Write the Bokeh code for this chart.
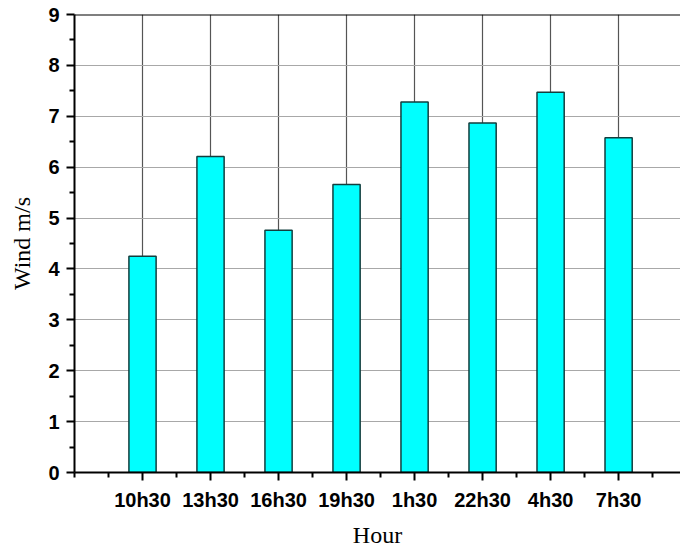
from bokeh.plotting import figure
from bokeh.models import Range1d, FixedTicker, Span
from bokeh.embed import file_html
from bokeh.resources import INLINE

# Data
hours = ["10h30", "13h30", "16h30", "19h30", "1h30", "22h30", "4h30", "7h30"]
wind = [4.25, 6.21, 4.76, 5.66, 7.28, 6.87, 7.47, 6.58]
y_ticks = [0, 1, 2, 3, 4, 5, 6, 7, 8, 9]
y_minor = [0.5, 1.5, 2.5, 3.5, 4.5, 5.5, 6.5, 7.5, 8.5]
x_pos = [1, 2, 3, 4, 5, 6, 7, 8]
x_minor = [0, 0.5, 1.5, 2.5, 3.5, 4.5, 5.5, 6.5, 7.5, 8.5]

LABEL_FONT = "Liberation Sans"
TITLE_FONT = "Liberation Serif"

p = figure(width=680, height=550, output_backend="svg", toolbar_location=None,
           x_range=Range1d(0, 8.91), y_range=Range1d(0, 9),
           min_border_left=74, min_border_top=14, min_border_right=0,
           min_border_bottom=78)
p.outline_line_color = None
p.background_fill_color = "white"
p.border_fill_color = "white"

p.vbar(x=x_pos, top=wind, width=0.4, bottom=0,
       fill_color="#00FFFF", line_color="#123e3e", line_width=1.5)

# grids
p.xgrid.ticker = FixedTicker(ticks=x_pos)
p.xgrid.grid_line_color = "#555555"
p.xgrid.grid_line_width = 1.2
p.ygrid.ticker = FixedTicker(ticks=y_ticks)
p.ygrid.grid_line_color = "#a8a8a8"
p.ygrid.grid_line_width = 1.2

# top frame line
p.add_layout(Span(location=9, dimension="width", line_color="black", line_width=2))

# x axis
xa = p.xaxis[0]
xa.ticker = FixedTicker(ticks=x_pos, minor_ticks=x_minor)
xa.major_label_overrides = {i: h for i, h in zip(x_pos, hours)}
xa.axis_label = "Hour"
xa.axis_label_text_font = TITLE_FONT
xa.axis_label_text_font_style = "normal"
xa.axis_label_text_font_size = "24px"
xa.axis_label_text_color = "black"
xa.axis_label_standoff = 8
xa.major_label_text_font = LABEL_FONT
xa.major_label_text_font_style = "bold"
xa.major_label_text_font_size = "20px"
xa.major_label_text_color = "black"
xa.major_label_standoff = 8
xa.axis_line_width = 2
xa.axis_line_color = "black"
xa.major_tick_out = 8
xa.major_tick_in = 0
xa.minor_tick_out = 5
xa.minor_tick_in = 0
xa.major_tick_line_width = 2
xa.minor_tick_line_width = 2
xa.major_tick_line_color = "black"
xa.minor_tick_line_color = "black"

# y axis
ya = p.yaxis[0]
ya.ticker = FixedTicker(ticks=y_ticks, minor_ticks=y_minor)
ya.axis_label = "Wind m/s"
ya.axis_label_text_font = TITLE_FONT
ya.axis_label_text_font_style = "normal"
ya.axis_label_text_font_size = "24px"
ya.axis_label_text_color = "black"
ya.axis_label_standoff = 10
ya.major_label_text_font = LABEL_FONT
ya.major_label_text_font_style = "bold"
ya.major_label_text_font_size = "20px"
ya.major_label_text_color = "black"
ya.major_label_standoff = 7
ya.axis_line_width = 2
ya.axis_line_color = "black"
ya.major_tick_out = 8
ya.major_tick_in = 0
ya.minor_tick_out = 5
ya.minor_tick_in = 0
ya.major_tick_line_width = 2
ya.minor_tick_line_width = 2
ya.major_tick_line_color = "black"
ya.minor_tick_line_color = "black"

open("out.html", "w").write(file_html(p, INLINE))
